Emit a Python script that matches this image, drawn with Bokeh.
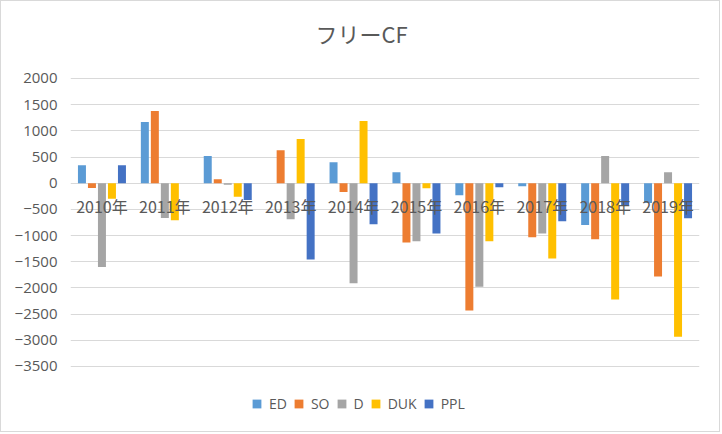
from bokeh.plotting import figure
from bokeh.models import (ColumnDataSource, Range1d, FixedTicker, Legend, LegendItem,
                          FactorRange, Label)
from bokeh.transform import dodge
from bokeh.core.properties import value
from bokeh.embed import file_html
from bokeh.resources import INLINE

years = ["2010年", "2011年", "2012年", "2013年", "2014年",
         "2015年", "2016年", "2017年", "2018年", "2019年"]
series_names = ["ED", "SO", "D", "DUK", "PPL"]
ED = [345, 1170, 520, 0, 400, 210, -230, -60, -800, -380]
SO = [-90, 1380, 75, 630, -170, -1130, -2430, -1030, -1070, -1780]
D = [-1600, -665, -30, -690, -1910, -1110, -1975, -960, 520, 210]
DUK = [-295, -705, -260, 845, 1190, -95, -1110, -1440, -2220, -2930]
PPL = [345, 0, -320, -1455, -785, -960, -75, -725, -415, -670]
colors = ["#5B9BD5", "#ED7D31", "#A5A5A5", "#FFC000", "#4472C4"]
yticks = [2000, 1500, 1000, 500, 0, -500, -1000, -1500, -2000, -2500, -3000, -3500]
title_text = "フリーCF"

src = ColumnDataSource(dict(year=years, ED=ED, SO=SO, D=D, DUK=DUK, PPL=PPL,
                            zero=[0] * len(years)))

# frame spans almost the whole canvas so the title and legend can sit inside it;
# gridlines/ticks are only drawn from -3500 to 2000
p = figure(width=720, height=432, x_range=FactorRange(*years),
           y_range=Range1d(-4627, 3432), output_backend="svg",
           toolbar_location=None, min_border_left=69, min_border_right=22,
           min_border_top=2, min_border_bottom=8)
p.styles = {"border": "1px solid #d9d9d9"}
p.outline_line_color = None
p.background_fill_color = "white"
p.border_fill_color = "white"

p.xgrid.grid_line_color = None
p.ygrid.grid_line_color = "#d9d9d9"
p.ygrid.grid_line_width = 1
p.yaxis.ticker = FixedTicker(ticks=yticks)
p.yaxis.axis_line_color = None
p.yaxis.major_tick_line_color = None
p.yaxis.minor_tick_line_color = None
p.yaxis.major_label_text_font = "Open Sans"
p.yaxis.major_label_text_font_size = "15px"
p.yaxis.major_label_text_color = "#595959"
p.yaxis.major_label_standoff = 7
p.xaxis.visible = False

step = 0.159
width = 0.127
renderers = []
for i, (name, col) in enumerate(zip(series_names, colors)):
    r = p.vbar(x=dodge("year", (i - 2) * step, range=p.x_range), top=name,
               bottom=0, width=width, source=src, fill_color=col,
               line_color=None)
    renderers.append(r)

p.text(x="year", y="zero", text="year", source=src, y_offset=23,
       text_align="center", text_baseline="middle",
       text_font=value("Noto Sans CJK JP"), text_font_size="16px",
       text_color="#595959")

title = Label(x=291, y=2869, x_units="screen", y_units="data", text=title_text,
              text_align="center", text_baseline="middle",
              text_font="Noto Sans CJK JP", text_font_size="22px",
              text_color="#595959")
p.add_layout(title)

legend = Legend(items=[LegendItem(label=n, renderers=[r]) for n, r in zip(series_names, renderers)],
                orientation="horizontal", location=(181, 12),
                glyph_width=11, glyph_height=11, label_standoff=7, spacing=6,
                label_width=0,
                label_text_font="Open Sans", label_text_font_size="14px",
                label_text_color="#595959", border_line_color=None,
                background_fill_alpha=0, margin=0, padding=0)
p.add_layout(legend, "center")

open("out.html", "w").write(file_html(p, INLINE))
